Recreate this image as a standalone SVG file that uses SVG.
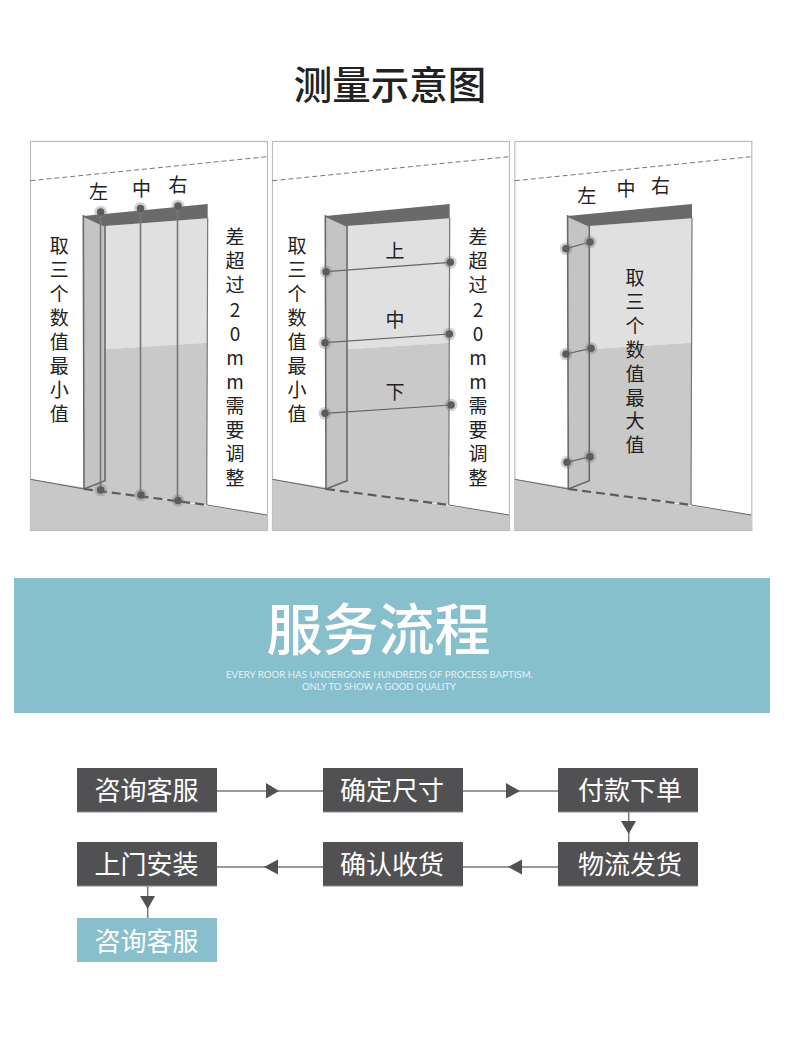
<svg xmlns="http://www.w3.org/2000/svg" xmlns:xlink="http://www.w3.org/1999/xlink" width="790" height="1047" viewBox="0 0 790 1047">
<style>
text{font-family:"Noto Sans CJK SC","Noto Sans",sans-serif;text-anchor:middle;dominant-baseline:central}
.lab{font-size:19px;fill:#222}
.sub{font-family:Lato,"Noto Sans",sans-serif;font-size:10px;fill:#e6f2f5;font-weight:400}
.box{fill:#515053;stroke:none}
.under{stroke:#8c8c8c;stroke-width:1.2}
.bt{font-size:26px;fill:#fff}
.conn{stroke:#7a7a7a;stroke-width:1.5;fill:none}
.tri{fill:#515053;stroke:none}
.mline{stroke:#666;stroke-width:1.2;fill:none}
.vline{stroke:#777;stroke-width:1.6;fill:none}
</style>
<defs>
<g id="scene">
<rect x="30.5" y="141.5" width="237" height="389" fill="#fff" stroke="#bcbcbc" stroke-width="1.2"/>
<path d="M30.5 180.7L267 156.7" fill="none" stroke="#666" stroke-width="0.9" stroke-dasharray="5 3"/>
<polygon points="30.5,479.3 267,515 267,530 30.5,530" fill="#c8c8c8"/>
<path d="M30.5 479.3L84 489M207 505L267 515" fill="none" stroke="#666" stroke-width="1"/>
<polygon points="105,226 207.7,218.3 207.2,342.7 105,349.3" fill="#e0e0e0"/>
<polygon points="105,349.3 207.2,342.7 206.7,505 84,489 105,480.7" fill="#c9c9c9"/>
<polygon points="83.3,216 207.7,204 207.7,218.3 105,226" fill="#6a6a6a"/>
<path d="M207.7 218L206.7 505" stroke="#777" stroke-width="1.2" fill="none"/>
<polygon points="83.3,216 105,226 105,480.7 84,489" fill="#c4c4c4" stroke="#6a6a6a" stroke-width="1.6"/>
<path d="M84 489L207 505" fill="none" stroke="#5c5c5c" stroke-width="2.200" stroke-dasharray="9 5"/>
</g>
<g id="dot"><circle r="6.300" fill="#777" fill-opacity="0.35"/><circle r="3.800" fill="#5c5c5c"/></g>
</defs>
<rect width="790" height="1047" fill="#fff"/>
<rect x="24" y="740" width="748" height="255" fill="#fefefe"/>
<g id="title"><text x="390" y="81.500" font-size="38.500" fill="#222" font-weight="500">测量示意图</text></g>

<g id="panel-1">
<use href="#scene" xlink:href="#scene"/>
<path class="vline" d="M100.500 212V490M140.500 208.500V495M177.500 206V500.500"/>
<use href="#dot" xlink:href="#dot" x="100.700" y="212"/><use href="#dot" xlink:href="#dot" x="140.500" y="208.500"/><use href="#dot" xlink:href="#dot" x="178" y="206"/>
<use href="#dot" xlink:href="#dot" x="100.700" y="490"/><use href="#dot" xlink:href="#dot" x="141" y="495"/><use href="#dot" xlink:href="#dot" x="178" y="500.500"/>
<text class="lab" x="98.600" y="190">左</text><text class="lab" x="141.600" y="187.500">中</text><text class="lab" x="178" y="183">右</text>
<text class="lab" x="59.300 59.300 59.300 59.300 59.300 59.300 59.300 59.300" y="244 268 292 316 340 364 388 412">取三个数值最小值</text>
<text class="lab" x="235 235 235 235 235 235 235 235 235 235 235" y="235 259 283 308 332 356 380 404 428 452 476">差超过20mm需要调整</text>
</g>

<g id="panel-2">
<use href="#scene" xlink:href="#scene" x="242"/>
<path class="mline" d="M326 271.700L450.300 262.300M325 342.700L449.300 334M325 413.300L451 405"/>
<use href="#dot" xlink:href="#dot" x="326" y="271.700"/><use href="#dot" xlink:href="#dot" x="450.300" y="262.300"/>
<use href="#dot" xlink:href="#dot" x="325" y="342.700"/><use href="#dot" xlink:href="#dot" x="449.300" y="334"/>
<use href="#dot" xlink:href="#dot" x="325" y="413.300"/><use href="#dot" xlink:href="#dot" x="451" y="405"/>
<text class="lab" x="395" y="249">上</text><text class="lab" x="395" y="318">中</text><text class="lab" x="395" y="390.500">下</text>
<text class="lab" x="297 297 297 297 297 297 297 297" y="244 268 292 316 340 364 388 412">取三个数值最小值</text>
<text class="lab" x="478 478 478 478 478 478 478 478 478 478 478" y="235 259 283 308 332 356 380 404 428 452 476">差超过20mm需要调整</text>
</g>

<g id="panel-3">
<use href="#scene" xlink:href="#scene" x="484.300"/>
<path class="mline" d="M566 248.700L590 242M566 354L591 348.300M567 462.300L590 456.700"/>
<use href="#dot" xlink:href="#dot" x="566" y="248.700"/><use href="#dot" xlink:href="#dot" x="590" y="242"/>
<use href="#dot" xlink:href="#dot" x="566" y="354"/><use href="#dot" xlink:href="#dot" x="591" y="348.300"/>
<use href="#dot" xlink:href="#dot" x="567" y="462.300"/><use href="#dot" xlink:href="#dot" x="590" y="456.700"/>
<text class="lab" x="586.700" y="194.500">左</text><text class="lab" x="626" y="187">中</text><text class="lab" x="660.500" y="184.500">右</text>
<text class="lab" x="635 635 635 635 635 635 635 635" y="276 300 324 348 372 396 419 443">取三个数值最大值</text>
</g>

<g id="banner">
<rect x="14" y="578" width="756" height="135" fill="#87bfcc"/>
<text x="378.500" y="625" font-size="56" fill="#fff" font-weight="500">服务流程</text>
<text class="sub" x="379.500" y="673.500" textLength="307" lengthAdjust="spacingAndGlyphs">EVERY ROOR HAS UNDERGONE HUNDREDS OF PROCESS BAPTISM.</text>
<text class="sub" x="379" y="686" textLength="154" lengthAdjust="spacingAndGlyphs">ONLY TO SHOW A GOOD QUALITY</text>
</g>

<g id="connectors">
<path class="conn" d="M217 791H323M463 791H558M217 867H323M463 867H558M628.700 812V842M147.700 886V918"/>
<polygon class="tri" points="266,783 279,791 266,798.500"/>
<polygon class="tri" points="506,783 520,791 506,798.500"/>
<polygon class="tri" points="278,859.500 264,867 278,874.500"/>
<polygon class="tri" points="522,859.500 508,867 522,874.500"/>
<polygon class="tri" points="621,821 636,821 628.700,834"/>
<polygon class="tri" points="140,896 155,896 147.700,909"/>
</g>

<g id="node-consult"><rect class="box" x="77" y="768" width="140" height="44"/><path class="under" d="M77 812H217"/><text class="bt" x="146.500" y="788.500">咨询客服</text></g>
<g id="node-size"><rect class="box" x="323" y="768" width="140" height="44"/><path class="under" d="M323 812H463"/><text class="bt" x="392" y="788.500">确定尺寸</text></g>
<g id="node-pay"><rect class="box" x="558" y="768" width="140" height="44"/><path class="under" d="M558 812H698"/><text class="bt" x="630" y="788.500">付款下单</text></g>
<g id="node-install"><rect class="box" x="77" y="842" width="140" height="44"/><path class="under" d="M77 886H217"/><text class="bt" x="146.500" y="862.500">上门安装</text></g>
<g id="node-receive"><rect class="box" x="323" y="842" width="140" height="44"/><path class="under" d="M323 886H463"/><text class="bt" x="392" y="862.500">确认收货</text></g>
<g id="node-ship"><rect class="box" x="558" y="842" width="140" height="44"/><path class="under" d="M558 886H698"/><text class="bt" x="630" y="862.500">物流发货</text></g>
<g id="node-consult-2"><rect x="77" y="918" width="140" height="44" fill="#87bfcc"/><text class="bt" x="146.500" y="939">咨询客服</text></g>
</svg>
